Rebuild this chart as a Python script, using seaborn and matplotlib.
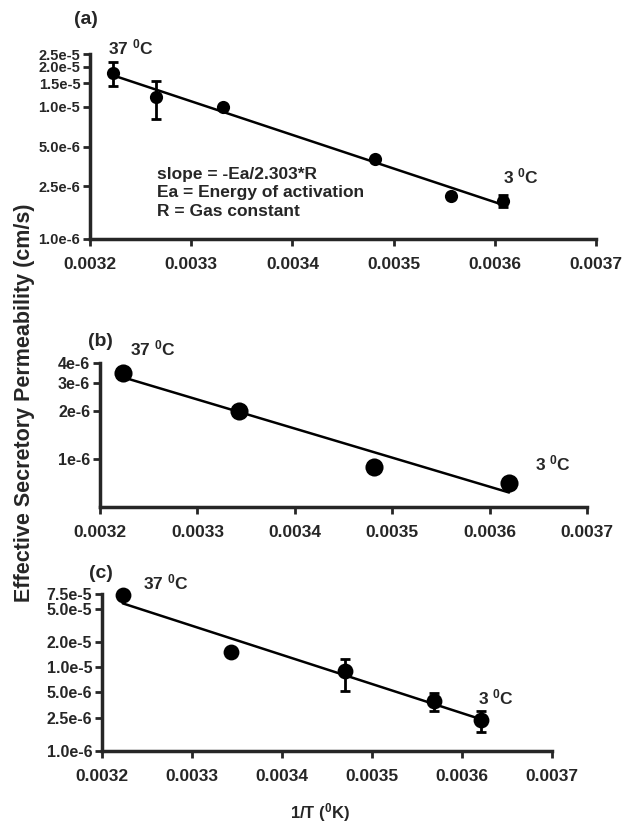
import numpy as np
import pandas as pd
import matplotlib
matplotlib.use("Agg")
import matplotlib.pyplot as plt
import seaborn as sns

sns.set_style("ticks")
plt.rcParams['font.family'] = ['Liberation Sans', 'DejaVu Sans']
plt.rcParams['font.weight'] = 'bold'
plt.rcParams['mathtext.fontset'] = 'custom'
plt.rcParams['mathtext.rm'] = 'Liberation Sans:bold'
plt.rcParams['mathtext.it'] = 'Liberation Sans:bold'
plt.rcParams['mathtext.bf'] = 'Liberation Sans:bold'

# panel (a)
inv_t_a = [0.003223, 0.003265, 0.003331, 0.003482, 0.003557, 0.003608]
perm_a = [1.80e-5, 1.19e-5, 1.00e-5, 4.04e-6, 2.12e-6, 1.94e-6]
err_a = [3.7e-6, 3.8e-6, 0, 0, 0, 2.0e-7]
yticks_a = [1.0e-6, 2.5e-6, 5.0e-6, 1.0e-5, 1.5e-5, 2.0e-5, 2.5e-5]
ylabels_a = ['1.0e-6', '2.5e-6', '5.0e-6', '1.0e-5', '1.5e-5', '2.0e-5', '2.5e-5']

# panel (b)
inv_t_b = [0.003224, 0.003343, 0.003481, 0.003620]
perm_b = [3.47e-6, 2.00e-6, 8.9e-7, 7.06e-7]
err_b = [0, 0, 0, 0]
yticks_b = [1e-6, 2e-6, 3e-6, 4e-6]
ylabels_b = ['1e-6', '2e-6', '3e-6', '4e-6']

# panel (c)
inv_t_c = [0.003223, 0.003343, 0.003470, 0.003569, 0.003621]
perm_c = [7.2e-5, 1.51e-5, 8.96e-6, 3.94e-6, 2.34e-6]
err_c = [0, 1.5e-6, 3.7e-6, 9.5e-7, 6.7e-7]
yticks_c = [1.0e-6, 2.5e-6, 5.0e-6, 1.0e-5, 2.0e-5, 5.0e-5, 7.5e-5]
ylabels_c = ['1.0e-6', '2.5e-6', '5.0e-6', '1.0e-5', '2.0e-5', '5.0e-5', '7.5e-5']

xticks = [0.0032, 0.0033, 0.0034, 0.0035, 0.0036, 0.0037]
xlabels = ['0.0032', '0.0033', '0.0034', '0.0035', '0.0036', '0.0037']

W, H = 634, 824
fig = plt.figure(figsize=(W / 100, H / 100), dpi=100)


def box(l, t, r, b):
    return [l / W, 1 - b / H, (r - l) / W, (b - t) / H]


def px(x, y):
    return x / W, 1 - y / H


def panel(rect, x, y, err, yt, yl, ylim, ms, ysize=11.5):
    ax = fig.add_axes(rect)
    df = pd.DataFrame({'x': x, 'y': y, 'err': err})
    ax.set_yscale('log')
    # fitted line of log10(P) against 1/T
    k, c = np.polyfit(df['x'], np.log10(df['y']), 1)
    fx = np.array([df['x'].min(), df['x'].max()])
    fit = pd.DataFrame({'x': fx, 'y': 10 ** (k * fx + c)})
    sns.lineplot(data=fit, x='x', y='y', ax=ax, color='black', lw=1.8)
    e = df[df['err'] > 0]
    ax.errorbar(e['x'], e['y'], yerr=e['err'], fmt='none', ecolor='black',
                elinewidth=2, capsize=3.5, capthick=2, clip_on=False)
    sns.scatterplot(data=df, x='x', y='y', ax=ax, color='black', s=ms,
                    edgecolor='black', linewidth=0, zorder=5, clip_on=False)
    ax.set_xlim(0.0032, 0.0037)
    ax.set_ylim(*ylim)
    ax.set_xticks(xticks)
    ax.set_xticklabels(xlabels, fontsize=12.5, fontweight='bold')
    ax.set_yticks(yt)
    ax.set_yticklabels(yl, fontsize=ysize, fontweight='bold')
    ax.minorticks_off()
    ax.set_xlabel('')
    ax.set_ylabel('')
    for s in ['top', 'right']:
        ax.spines[s].set_visible(False)
    for s in ['left', 'bottom']:
        ax.spines[s].set_linewidth(2.5)
    ax.tick_params(direction='out', length=5, width=2, pad=2)
    ax.tick_params(axis='x', pad=8)
    ax.patch.set_alpha(0)
    return ax


panel(box(90, 54, 596, 239), inv_t_a, perm_a, err_a, yticks_a, ylabels_a, (1.0e-6, 2.5e-5), 90, 10.5)
panel(box(100, 363, 587, 507), inv_t_b, perm_b, err_b, yticks_b, ylabels_b, (5e-7, 4e-6), 170)
panel(box(102, 594, 552, 751), inv_t_c, perm_c, err_c, yticks_c, ylabels_c, (1.0e-6, 7.5e-5), 130)

tfont = dict(fontsize=14, fontweight='bold', va='center')
fig.text(*px(74, 20), '(a)', **tfont)
fig.text(*px(88, 342), '(b)', **tfont)
fig.text(*px(89, 573), '(c)', **tfont)

cfont = dict(fontsize=12.5, fontweight='bold', va='center')
fig.text(*px(108, 47), '37 $^{0}$C', **cfont)
fig.text(*px(503, 176), '3 $^{0}$C', **cfont)
fig.text(*px(130, 348), '37 $^{0}$C', **cfont)
fig.text(*px(535, 463), '3 $^{0}$C', **cfont)
fig.text(*px(143, 582), '37 $^{0}$C', **cfont)
fig.text(*px(478, 697), '3 $^{0}$C', **cfont)

fig.text(*px(157, 175), 'slope = -Ea/2.303*R', fontsize=12.5, va='center')
fig.text(*px(157, 193), 'Ea = Energy of activation', fontsize=12.5, va='center')
fig.text(*px(157, 211), 'R = Gas constant', fontsize=12.5, va='center')

fig.text(*px(25, 403), 'Effective Secretory Permeability (cm/s)', rotation=90,
         fontsize=15.5, fontweight='bold', ha='center', va='center')
fig.text(*px(320, 813), '1/T ($^{0}$K)', fontsize=12, fontweight='bold',
         ha='center', va='center')

fig.savefig('out.png', dpi=100)
